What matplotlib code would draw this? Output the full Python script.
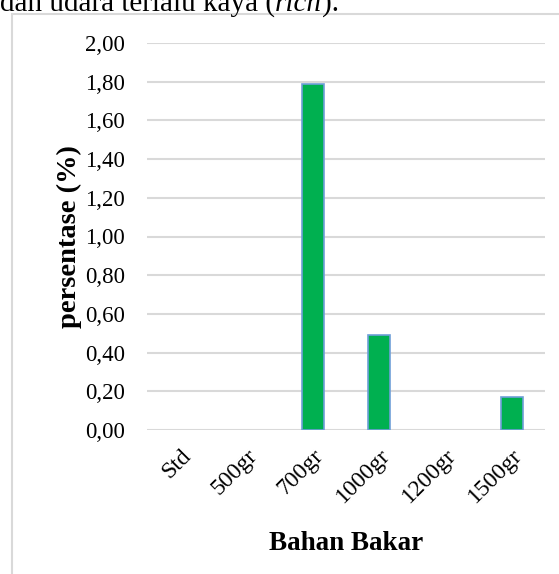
import matplotlib.pyplot as plt
from matplotlib.patches import Rectangle

kategori = ["Std", "500gr", "700gr", "1000gr", "1200gr", "1500gr"]
persentase = [0.00, 0.00, 1.79, 0.49, 0.00, 0.17]
yticks = [0.0, 0.2, 0.4, 0.6, 0.8, 1.0, 1.2, 1.4, 1.6, 1.8, 2.0]

plt.rcParams['font.family'] = ['Liberation Serif', 'DejaVu Serif']

W, H = 559, 574
fig = plt.figure(figsize=(W / 100, H / 100), dpi=100)

# bingkai grafik
fig.patches.append(Rectangle((12 / W, -0.1), 1.2, 1 - 14 / H + 0.1,
                             transform=fig.transFigure, fill=False,
                             edgecolor="#d9d9d9", linewidth=1.5))

# potongan kalimat dari paragraf di atas grafik
base = 1 - 11 / H
fig.text(0, base, "dan udara terlalu kaya (", fontsize=21, va="baseline")

ax = fig.add_axes([147 / W, 1 - 430 / H, (545 - 147) / W, (430 - 43) / H])
x = range(len(kategori))
bars = ax.bar(x, persentase, width=0.33, color="#00b050", edgecolor="#6f9fd8",
              linewidth=1.2, zorder=3)
for b, v in zip(bars, persentase):
    if v == 0:
        b.set_linewidth(0)

ax.set_ylim(0, 2.0)
ax.set_xlim(-0.5, len(kategori) - 0.5)
ax.set_yticks(yticks)
ax.set_yticklabels([f"{v:.2f}".replace(".", ",") for v in yticks], fontsize=16.5)
ax.set_xticks(list(x))
ax.set_xticklabels(kategori, fontsize=17, rotation=45, ha="right",
                   rotation_mode="anchor")
ax.tick_params(length=0, pad=16, axis="y")
ax.tick_params(length=0, pad=11, axis="x")
ax.grid(axis="y", color="#d9d9d9", linewidth=1.5, zorder=0)
for s in ax.spines.values():
    s.set_visible(False)

ax.set_ylabel("persentase (%)", fontsize=20.5, fontweight="bold", labelpad=2)
ax.set_xlabel("Bahan Bakar", fontsize=19.5, fontweight="bold", labelpad=17)

# sisa kalimat: kata "rich" miring
fig.canvas.draw()
r = fig.texts[0].get_window_extent()
fig.text(r.x1 / W, base, "rich", fontsize=21, va="baseline", style="italic")
fig.canvas.draw()
r2 = fig.texts[-1].get_window_extent()
fig.text(r2.x1 / W, base, ").", fontsize=21, va="baseline")

fig.savefig("out.png", dpi=100)
